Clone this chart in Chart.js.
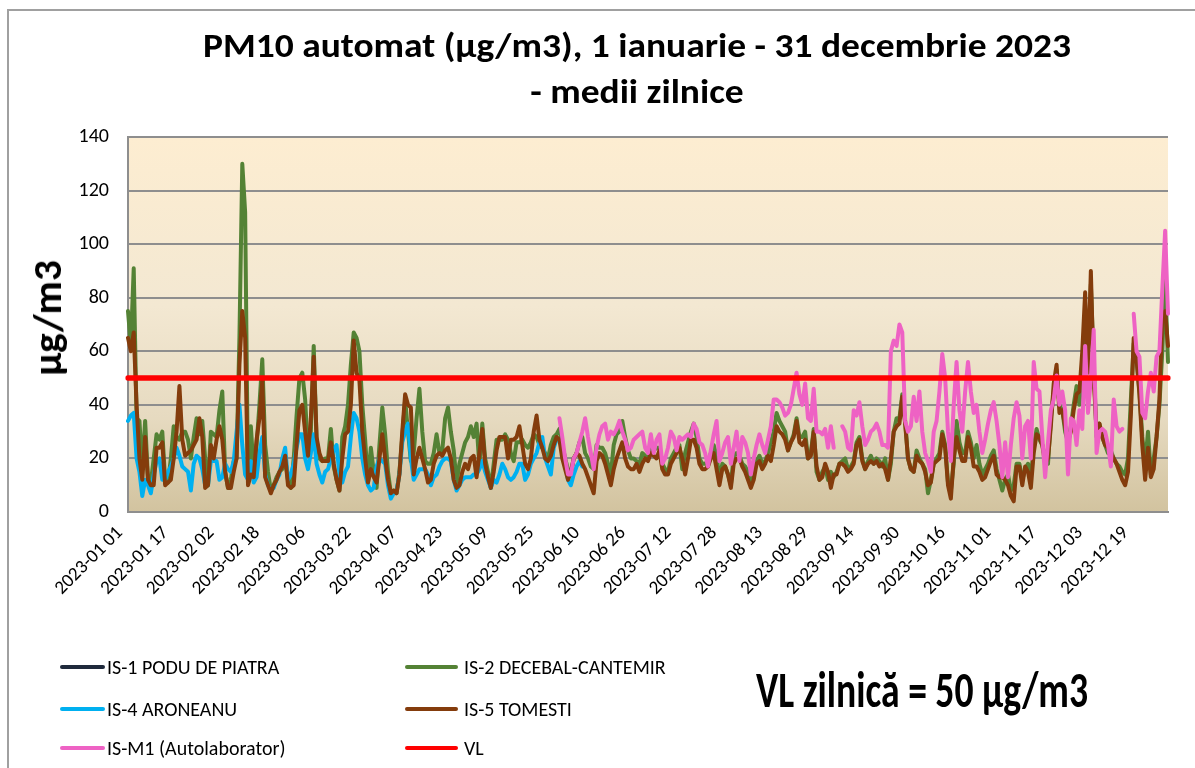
<!DOCTYPE html>
<html><head><meta charset="utf-8">
<script src="https://cdn.jsdelivr.net/npm/chart.js@4/dist/chart.umd.min.js"></script>
<style>
body{margin:0;background:#fff;}
#wrap{position:relative;width:1195px;height:768px;overflow:hidden;background:#fff;font-family:Carlito,Lato,"Liberation Sans",sans-serif;color:#000;}
#frame{position:absolute;left:7px;top:9px;width:1300px;height:900px;border-left:2px solid #a0a0a0;border-top:2px solid #a0a0a0;}
#chart{position:absolute;left:0;top:0;}
#title{position:absolute;left:0;top:22px;width:1274px;text-align:center;font-weight:bold;font-size:35px;line-height:46px;transform-origin:637px 0;}
#title span{white-space:nowrap;}
#ytitle{position:absolute;left:47px;top:318px;transform:translate(-50%,-50%) rotate(-90deg);font-weight:bold;font-size:41px;white-space:nowrap;}
.leg{position:absolute;font-size:20px;white-space:nowrap;}
.leg span.l{position:absolute;height:4px;top:-2px;border-radius:2px;}
.leg span.t{position:absolute;transform:translateY(-50%);}
#vl{position:absolute;left:756px;top:689px;transform-origin:left center;font-weight:bold;font-size:50px;white-space:nowrap;}
</style></head>
<body><div id="wrap">
<div id="frame"></div>
<canvas id="chart" width="1195" height="768"></canvas>
<div id="title"><span id="t1">PM10 automat (µg/m3), 1 ianuarie - 31 decembrie 2023</span><br><span>- medii zilnice</span></div>
<div id="ytitle">µg/m3</div>
<div id="legend"></div>
<div id="vl">VL zilnică = 50 µg/m3</div>
</div>
<script>
const tickLabels = ['2023-01 01','2023-01 17','2023-02 02','2023-02 18','2023-03 06','2023-03 22','2023-04 07','2023-04 23','2023-05 09','2023-05 25','2023-06 10','2023-06 26','2023-07 12','2023-07 28','2023-08 13','2023-08 29','2023-09 14','2023-09 30','2023-10 16','2023-11 01','2023-11 17','2023-12 03','2023-12 19'];
const seriesNames = ['IS-1 PODU DE PIATRA','IS-2 DECEBAL-CANTEMIR','IS-4 ARONEANU','IS-5 TOMESTI','IS-M1 (Autolaborator)','VL'];
const limitValue = 50;

const is1 = [];
const is2 = [
75,62,91,35,34,16,34,12,11,20,
29,27,30,12,11,20,32,28,27,30,
30,27,20,28,35,29,34,20,10,30,
29,28,38,45,15,9,12,19,20,65,
130,112,11,32,15,25,40,57,25,15,
8,10,13,15,16,20,12,9,20,36,
50,52,42,22,30,62,27,20,19,20,
20,31,17,12,8,28,32,40,55,67,
65,60,40,27,11,24,15,9,25,39,
29,15,7,8,7,15,28,42,30,19,
22,35,46,30,19,18,18,22,29,22,
23,35,39,30,23,11,18,22,26,28,
32,28,33,17,33,20,15,9,18,27,
27,27,29,27,22,19,26,26,27,25,
24,26,29,28,25,24,22,20,25,28,
29,31,25,20,16,14,20,22,26,28,
22,20,17,16,25,24,24,22,18,14,
25,29,30,34,28,23,20,20,19,18,
22,21,20,24,23,24,24,18,16,15,
20,22,24,25,16,22,26,30,33,28,
20,18,18,19,22,25,21,12,18,17,
14,10,21,22,21,18,17,15,11,16,
19,21,18,19,22,26,30,37,34,32,
30,23,26,29,35,28,28,30,20,22,
31,15,12,15,17,12,15,13,15,18,
19,20,16,17,19,26,28,20,16,19,
21,18,20,19,17,20,12,18,30,35,
35,44,34,20,16,15,23,20,18,16,
7,12,18,20,22,30,25,11,8,18,
34,26,22,22,30,26,20,25,18,14,
16,18,21,23,16,12,8,12,14,8,
10,18,18,12,16,18,13,24,31,27,
25,20,18,35,45,53,40,38,30,26,
32,40,47,40,55,70,60,85,55,28,
33,28,25,22,23,20,18,17,15,14,
20,42,63,57,45,28,18,30,14,20,
28,40,60,87,56];
const is4 = [
34,36,37,20,15,6,12,10,7,14,
19,20,12,12,15,17,20,24,21,17,
16,15,8,18,21,20,16,10,10,19,
19,19,12,13,18,16,15,19,30,40,
25,14,12,19,11,13,22,28,14,10,
8,9,12,14,20,24,12,14,18,24,
29,29,20,16,22,29,18,14,11,15,
16,20,23,25,14,11,15,17,28,37,
35,30,20,14,10,8,9,17,20,19,
18,10,5,7,8,14,26,30,33,20,
12,14,16,16,16,14,10,13,14,17,
19,20,20,19,12,8,10,12,13,13,
13,14,14,16,19,15,12,9,12,11,
14,18,16,13,12,13,15,18,18,12,
14,18,20,22,26,28,20,17,14,24,
27,27,24,18,12,10,14,17,19,17];
const is5 = [
65,60,67,40,20,12,28,12,10,10,
24,24,26,10,11,12,20,30,47,27,
21,22,23,25,27,35,28,9,10,25,
20,27,32,27,15,9,9,15,20,55,
75,65,10,14,13,27,35,49,13,10,
7,10,12,15,17,21,10,9,10,25,
38,40,30,21,35,58,28,22,19,19,
19,26,18,12,8,20,29,30,40,64,
52,49,30,20,11,16,13,11,20,29,
20,12,7,8,7,14,30,44,40,39,
14,20,24,20,16,11,12,18,21,22,
21,23,24,20,12,9,10,15,18,16,
20,21,13,22,31,18,13,9,15,23,
28,28,28,20,27,27,28,32,25,18,
16,20,30,36,27,24,20,19,21,25,
28,27,20,16,12,15,20,22,21,18,
16,13,10,7,19,22,21,18,14,10,
16,20,23,26,20,17,16,16,18,15,
18,20,19,22,21,20,23,16,14,14,
18,20,22,24,20,14,20,27,27,24,
18,16,16,17,20,22,16,10,16,17,
14,9,18,20,20,17,15,12,9,12,
18,19,16,18,21,19,25,32,30,29,
27,23,26,28,34,26,25,27,20,21,
30,17,12,13,18,15,9,14,14,18,
18,17,15,16,18,25,27,19,16,18,
19,18,19,17,18,16,12,20,30,32,
33,43,33,20,16,15,21,19,18,15,
10,11,18,19,20,29,24,10,5,20,
28,23,19,19,28,24,17,17,15,12,
13,16,19,21,14,13,13,12,10,6,
4,17,17,10,17,15,9,22,29,28,
25,18,20,32,48,55,37,38,32,26,
30,38,44,45,60,82,52,90,50,30,
33,28,25,24,22,20,18,15,12,10,
15,36,65,57,44,25,12,24,13,16,
28,42,74,75,62];
const ism1Start = 151;
const ism1 = [
35,28,20,14,14,20,22,26,30,
35,28,22,16,24,29,32,33,27,30,
29,31,34,30,27,23,24,27,28,29,
30,24,22,29,22,27,29,18,20,24,
30,28,23,28,27,28,29,28,33,31,
26,25,22,17,23,29,34,19,22,26,
28,18,24,30,19,28,26,22,14,20,
25,29,25,22,27,32,42,42,41,39,
36,37,40,46,52,44,40,48,35,34,
46,30,30,29,31,24,32,24,null,null,
32,30,24,23,38,36,41,32,25,27,
30,31,33,30,25,25,24,60,64,62,
70,67,34,30,32,43,34,45,30,22,
19,15,30,34,45,59,50,30,19,40,
56,38,30,45,56,45,37,40,30,22,
27,33,38,41,34,25,13,26,13,25,
35,41,36,20,32,34,20,56,46,45,
28,13,26,38,42,51,40,45,38,14,
35,34,25,38,31,62,37,50,68,22,
30,31,30,25,17,42,32,30,31,null,
null,null,74,60,58,37,35,45,52,45,
58,60,83,105,74];
const colors = ['#1F2A3C','#548235','#00B0F0','#843C0C','#EE62C4','#FF0000'];

// calendar categories for 2023
const categories = [];
for (let d = new Date(Date.UTC(2023,0,1)); d.getUTCFullYear() === 2023; d.setUTCDate(d.getUTCDate()+1)) {
  const m = String(d.getUTCMonth()+1).padStart(2,'0');
  const dd = String(d.getUTCDate()).padStart(2,'0');
  categories.push('2023-' + m + ' ' + dd);
}
const pad = (arr, start) => categories.map((_, i) => (i >= start && i - start < arr.length) ? arr[i - start] : null);
const vlData = categories.map(() => limitValue);

const FAM = 'Carlito, Lato, "Liberation Sans", sans-serif';

const bgPlugin = {
  id: 'plotBg',
  beforeDraw(chart) {
    const {ctx, chartArea: a} = chart;
    const g = ctx.createLinearGradient(0, a.top, 0, a.bottom);
    g.addColorStop(0, '#FDEDD1');
    g.addColorStop(0.45, '#F3E8D2');
    g.addColorStop(0.75, '#E6DAC0');
    g.addColorStop(1, '#D2C39F');
    ctx.save();
    ctx.fillStyle = g;
    ctx.fillRect(a.left, a.top, a.right - a.left, a.bottom - a.top);
    ctx.restore();
  }
};

const mk = (i, data, width, order) => ({
  label: seriesNames[i], data, borderColor: colors[i], backgroundColor: colors[i],
  borderWidth: width, pointRadius: 0, fill: false, spanGaps: false, order
});

new Chart(document.getElementById('chart'), {
  type: 'line',
  data: {
    labels: categories,
    datasets: [
      mk(0, pad(is1, 0), 4, 5),
      mk(1, pad(is2, 0), 4, 4),
      mk(2, pad(is4, 0), 4, 3),
      mk(3, pad(is5, 0), 4, 2),
      mk(4, pad(ism1, ism1Start), 4, 1),
      mk(5, vlData, 5.5, 0)
    ]
  },
  options: {
    responsive: false, animation: false,
    layout: {padding: {left: 0, right: 27, top: 137, bottom: 0}},
    plugins: {legend: {display: false}, title: {display: false}, tooltip: {enabled: false}},
    elements: {line: {tension: 0, borderJoinStyle: 'round', borderCapStyle: 'round'}},
    scales: {
      x: {
        type: 'category', offset: false,
        grid: {display: false},
        border: {display: true, color: '#8e8e8e', width: 2},
        ticks: {
          autoSkip: false, maxRotation: 45, minRotation: 45, padding: 2, labelOffset: -8,
          color: '#000', font: {size: 19, family: FAM},
          callback: (v, i) => tickLabels.includes(categories[i]) ? categories[i] : null
        },
        afterFit(s) { s.height = 256; }
      },
      y: {
        min: 0, max: 140,
        ticks: {stepSize: 20, color: '#000', padding: 19, font: {size: 20, family: FAM}},
        grid: {color: '#8e8e8e', lineWidth: 2, drawTicks: false},
        border: {display: true, color: '#8e8e8e', width: 2},
        afterFit(s) { s.width = 128; }
      }
    }
  },
  plugins: [bgPlugin]
});

// legend (HTML, built from the dataset names/colours)
const legPos = [[60,105,107,667],[405,458,464,667],[60,105,107,709],[405,458,464,709],[60,105,107,748],[405,458,464,748]];
const legEl = document.getElementById('legend');
seriesNames.forEach((n, i) => {
  const [l1, l2, tx, y] = legPos[i];
  const d = document.createElement('div');
  d.className = 'leg';
  d.style.left = '0px'; d.style.top = y + 'px';
  d.innerHTML = '<span class="l" style="left:' + l1 + 'px;width:' + (l2 - l1) + 'px;background:' + colors[i] + '"></span>' +
                '<span class="t" style="left:' + tx + 'px">' + n + '</span>';
  legEl.appendChild(d);
});
// fit title and VL text widths
const t1w = document.getElementById('t1').getBoundingClientRect().width;
document.getElementById('title').style.transform = 'scaleX(' + (868 / t1w) + ')';
const vl = document.getElementById('vl');
const w = vl.getBoundingClientRect().width;
vl.style.transform = 'translateY(-50%) scaleX(' + (332 / w) + ')';
</script>
</body></html>
